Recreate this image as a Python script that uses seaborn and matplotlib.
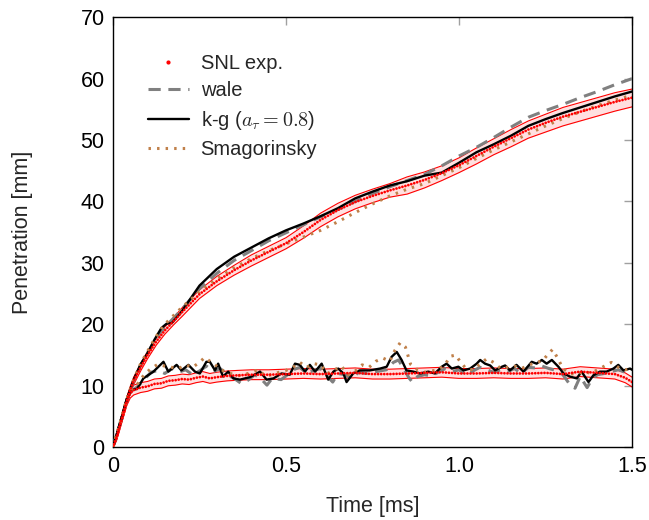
import numpy as np
import pandas as pd
import matplotlib
matplotlib.use("Agg")
import matplotlib.pyplot as plt
from matplotlib.lines import Line2D
import seaborn as sns

# ---------------- data ----------------
# Experimental vapour penetration (SNL): centre, lower and upper bounds
vap_exp_t  = [0, 0.01, 0.02, 0.03, 0.04, 0.05, 0.06, 0.08, 0.10, 0.125, 0.15, 0.175, 0.20, 0.25, 0.30,
              0.35, 0.40, 0.45, 0.50, 0.55, 0.60, 0.65, 0.70, 0.75, 0.80, 0.85, 0.90, 0.95, 1.00,
              1.05, 1.10, 1.15, 1.20, 1.25, 1.30, 1.35, 1.40, 1.45, 1.50]
vap_exp_c  = [0, 1.5, 3.5, 5.5, 7.5, 9.3, 10.8, 13.0, 15.0, 17.2, 19.0, 20.5, 22.0, 24.9, 27.0,
              28.8, 30.4, 31.8, 33.2, 35.0, 37.0, 38.6, 39.9, 40.9, 41.8, 42.6, 43.5, 44.6, 45.9,
              47.4, 48.9, 50.3, 51.7, 52.8, 53.8, 54.6, 55.4, 56.2, 56.9]
vap_exp_lo = [0, 1.0, 2.9, 4.9, 6.9, 8.7, 10.2, 12.4, 14.4, 16.6, 18.4, 19.9, 21.3, 24.2, 26.3,
              28.0, 29.5, 30.9, 32.3, 34.0, 35.9, 37.5, 38.8, 39.8, 40.7, 41.2, 42.2, 43.4, 44.7,
              46.1, 47.6, 48.9, 50.3, 51.3, 52.3, 53.1, 53.9, 54.7, 55.4]
vap_exp_hi = [0, 2.0, 4.1, 6.1, 8.1, 9.9, 11.4, 13.6, 15.6, 17.8, 19.6, 21.1, 22.7, 25.6, 27.8,
              29.6, 31.3, 32.7, 34.1, 36.0, 38.1, 39.7, 41.0, 42.0, 42.9, 44.0, 44.8, 45.8, 47.1,
              48.7, 50.2, 51.7, 53.1, 54.2, 55.3, 56.1, 56.9, 57.7, 58.3]

# Experimental liquid length (SNL): centre and half spread
liq_exp_t = [0, 0.01, 0.02, 0.03, 0.04, 0.05, 0.06, 0.08, 0.10, 0.12, 0.14, 0.16, 0.18, 0.20, 0.22,
             0.24, 0.26, 0.28, 0.30, 0.33, 0.36, 0.40, 0.45, 0.50, 0.55, 0.60, 0.65, 0.70, 0.75,
             0.80, 0.85, 0.90, 0.95, 1.00, 1.05, 1.10, 1.15, 1.20, 1.25, 1.30, 1.35, 1.40, 1.45,
             1.48, 1.50]
liq_exp_c = [0, 1.5, 3.5, 5.5, 7.5, 8.8, 9.3, 9.7, 9.9, 10.3, 10.4, 10.8, 10.9, 11.1, 11.0,
             11.3, 11.5, 11.2, 11.4, 11.6, 11.7, 11.8, 11.8, 11.9, 12.0, 11.9, 12.0, 12.1, 11.9,
             11.9, 12.0, 12.1, 12.2, 12.0, 12.0, 12.1, 12.0, 12.0, 12.1, 11.9, 12.3, 12.1, 11.9,
             11.3, 10.6]
liq_exp_s = [0, 0.3, 0.5, 0.6, 0.7, 0.8, 0.8, 0.8, 0.8, 0.8, 0.8, 0.8, 0.8, 0.8, 0.8,
             0.8, 0.8, 0.8, 0.8, 0.8, 0.8, 0.8, 0.8, 0.8, 0.8, 0.8, 0.8, 0.8, 0.8,
             0.8, 0.8, 0.8, 0.8, 0.8, 0.8, 0.8, 0.8, 0.8, 0.8, 0.8, 0.8, 0.8, 0.8,
             0.8, 0.8]

# LES vapour penetration
kg_vap_t = [0, 0.02, 0.04, 0.06, 0.08, 0.10, 0.12, 0.14, 0.155, 0.17, 0.19, 0.20, 0.25, 0.30, 0.35,
            0.40, 0.45, 0.50, 0.55, 0.60, 0.65, 0.70, 0.75, 0.80, 0.85, 0.90, 0.95, 1.00, 1.05,
            1.10, 1.15, 1.20, 1.25, 1.30, 1.35, 1.40, 1.45, 1.50]
kg_vap   = [0, 3.8, 7.8, 11.0, 13.5, 15.3, 17.5, 19.4, 20.1, 20.2, 21.5, 22.2, 26.3, 29.0, 31.0,
            32.5, 34.0, 35.3, 36.4, 37.6, 38.9, 40.5, 41.6, 42.6, 43.3, 44.2, 44.7, 46.3, 48.0,
            49.3, 50.7, 52.3, 53.4, 54.4, 55.3, 56.2, 57.1, 57.9]

wale_vap_t = [0, 0.02, 0.04, 0.06, 0.08, 0.10, 0.12, 0.14, 0.16, 0.20, 0.25, 0.30, 0.35, 0.40, 0.45,
              0.50, 0.55, 0.60, 0.65, 0.70, 0.75, 0.80, 0.85, 0.90, 0.95, 1.00, 1.05, 1.10, 1.15,
              1.20, 1.25, 1.30, 1.35, 1.40, 1.45, 1.50]
wale_vap   = [0, 3.7, 7.6, 10.8, 13.3, 15.3, 17.3, 18.9, 20.1, 22.5, 25.8, 28.3, 30.4, 32.0, 33.6,
              34.9, 36.2, 37.5, 38.7, 40.0, 41.3, 42.4, 43.4, 44.4, 45.8, 47.4, 48.8, 50.4, 52.1,
              53.7, 54.8, 55.8, 56.9, 57.9, 59.0, 60.0]

smag_vap_t = [0, 0.02, 0.04, 0.06, 0.08, 0.10, 0.12, 0.14, 0.16, 0.20, 0.25, 0.30, 0.35, 0.40, 0.45,
              0.50, 0.55, 0.60, 0.65, 0.70, 0.75, 0.80, 0.85, 0.90, 0.95, 1.00, 1.05, 1.10, 1.15,
              1.20, 1.25, 1.30, 1.35, 1.40, 1.45, 1.50]
smag_vap   = [0, 3.8, 7.8, 11.0, 13.6, 15.6, 17.6, 19.3, 20.6, 22.8, 25.3, 27.4, 29.2, 30.7, 32.0,
              33.1, 34.2, 35.3, 36.7, 38.2, 39.6, 40.9, 42.0, 42.9, 44.2, 45.5, 47.0, 48.4, 49.7,
              51.0, 52.3, 53.5, 54.6, 55.6, 56.5, 57.3]

# LES liquid length
kg_liq_t = [0, 0.02, 0.04, 0.055, 0.07, 0.088, 0.117, 0.146, 0.16, 0.184, 0.198, 0.218, 0.237, 0.251,
            0.27, 0.28, 0.295, 0.304, 0.318, 0.333, 0.348, 0.367, 0.396, 0.425, 0.444, 0.464, 0.487,
            0.511, 0.526, 0.54, 0.555, 0.569, 0.584, 0.603, 0.622, 0.637, 0.651, 0.666, 0.675, 0.694,
            0.713, 0.742, 0.772, 0.791, 0.805, 0.82, 0.834, 0.848, 0.868, 0.887, 0.911, 0.93, 0.95,
            0.964, 0.979, 0.998, 1.013, 1.032, 1.051, 1.061, 1.075, 1.09, 1.104, 1.124, 1.133, 1.147,
            1.166, 1.186, 1.21, 1.224, 1.239, 1.253, 1.268, 1.287, 1.302, 1.32, 1.34, 1.354, 1.374,
            1.388, 1.407, 1.426, 1.446, 1.46, 1.475, 1.494, 1.5]
kg_liq   = [0, 3.8, 7.8, 9.3, 9.5, 11.2, 12.3, 13.9, 12.3, 13.4, 12.5, 13.4, 12.3, 12.0,
            13.9, 13.9, 12.5, 13.6, 11.5, 12.3, 11.2, 11.0, 11.4, 12.3, 11.0, 11.2, 12.0,
            11.8, 13.6, 13.4, 12.3, 13.4, 12.3, 13.6, 11.0, 12.3, 12.8, 12.0, 10.6, 12.0,
            12.5, 12.5, 12.8, 13.1, 14.7, 15.5, 14.2, 12.5, 12.3, 12.0, 12.3, 12.0, 13.1,
            13.6, 12.8, 13.1, 12.5, 12.8, 13.6, 14.2, 13.6, 13.3, 12.5, 13.1, 13.3, 12.5,
            13.4, 12.3, 13.9, 13.6, 14.2, 13.6, 14.2, 13.1, 12.0, 11.5, 11.2, 12.3, 10.6,
            11.7, 12.3, 12.3, 12.8, 13.4, 12.5, 12.8, 12.6]

wale_liq_t = [0, 0.02, 0.04, 0.055, 0.07, 0.09, 0.11, 0.13, 0.15, 0.17, 0.19, 0.21, 0.23, 0.25, 0.27,
              0.29, 0.31, 0.33, 0.35, 0.37, 0.39, 0.41, 0.43, 0.445, 0.46, 0.486, 0.50, 0.52, 0.54,
              0.56, 0.58, 0.60, 0.62, 0.635, 0.65, 0.67, 0.69, 0.71, 0.73, 0.75, 0.77, 0.79, 0.81,
              0.825, 0.84, 0.855, 0.865, 0.88, 0.90, 0.92, 0.94, 0.96, 0.98, 1.00, 1.02, 1.04, 1.06,
              1.08, 1.10, 1.12, 1.14, 1.16, 1.18, 1.20, 1.22, 1.24, 1.26, 1.28, 1.30, 1.32, 1.335,
              1.35, 1.37, 1.385, 1.40, 1.42, 1.44, 1.46, 1.48, 1.50]
wale_liq   = [0, 3.7, 7.6, 9.2, 9.8, 11.0, 12.2, 12.5, 12.0, 12.8, 12.2, 12.6, 11.8, 12.4, 13.2,
              12.3, 12.8, 11.8, 11.2, 10.4, 10.9, 11.8, 11.0, 10.1, 11.2, 11.0, 11.6, 12.6, 13.0,
              12.0, 12.5, 12.8, 11.5, 10.6, 12.0, 11.8, 11.2, 12.2, 12.0, 12.2, 12.4, 12.6, 13.8,
              14.2, 12.8, 11.3, 10.6, 11.5, 11.8, 11.6, 12.2, 12.8, 12.3, 12.6, 11.8, 12.4, 13.0,
              12.6, 12.2, 12.6, 12.3, 12.8, 12.0, 13.0, 12.9, 13.2, 12.8, 12.5, 11.8, 10.2, 9.6,
              11.5, 9.7, 11.2, 11.8, 12.0, 12.3, 12.6, 12.2, 12.4]

smag_liq_t = [0, 0.02, 0.04, 0.055, 0.07, 0.09, 0.11, 0.13, 0.15, 0.17, 0.19, 0.21, 0.23, 0.25, 0.265,
              0.28, 0.30, 0.32, 0.34, 0.36, 0.38, 0.40, 0.42, 0.44, 0.46, 0.48, 0.50, 0.52, 0.54,
              0.56, 0.58, 0.60, 0.62, 0.64, 0.66, 0.68, 0.70, 0.72, 0.74, 0.76, 0.78, 0.80, 0.815,
              0.83, 0.845, 0.86, 0.88, 0.90, 0.92, 0.94, 0.96, 0.975, 0.99, 1.005, 1.02, 1.04, 1.06,
              1.08, 1.10, 1.12, 1.14, 1.16, 1.18, 1.20, 1.22, 1.24, 1.255, 1.27, 1.285, 1.30, 1.32,
              1.34, 1.36, 1.38, 1.40, 1.42, 1.44, 1.46, 1.48, 1.50]
smag_liq   = [0, 3.8, 7.8, 9.5, 10.2, 11.8, 12.8, 13.5, 13.2, 13.0, 12.8, 13.4, 13.0, 13.8, 14.6,
              14.0, 13.2, 12.4, 12.0, 11.6, 11.8, 12.2, 12.6, 11.6, 11.8, 12.2, 12.5, 13.0, 13.8,
              13.0, 13.6, 13.4, 12.0, 12.6, 13.2, 11.8, 12.4, 13.4, 13.0, 14.0, 14.5, 14.0, 15.8,
              17.0, 16.3, 13.5, 12.6, 12.2, 12.4, 12.6, 13.5, 14.8, 15.0, 13.8, 12.8, 12.6, 13.5,
              14.4, 13.8, 12.8, 13.0, 13.2, 12.8, 13.3, 13.8, 14.0, 15.0, 15.9, 14.5, 12.8, 12.0,
              11.8, 12.4, 12.0, 12.6, 13.2, 13.8, 13.0, 12.6, 12.8]

x_ticks = [0, 0.5, 1.0, 1.5]
x_tick_labels = ["0", "0.5", "1.0", "1.5"]
y_ticks = [0, 10, 20, 30, 40, 50, 60, 70]

# ---------------- style ----------------
sns.set_theme(style="white")
plt.rcParams['font.family'] = ['Liberation Sans', 'DejaVu Sans']
plt.rcParams['mathtext.fontset'] = 'cm'

RED = "#ff0000"
GRAY = "#808080"
SMAG = "#c0804a"

fig = plt.figure(figsize=(6.49, 5.2), dpi=100)
ax = fig.add_axes([0.174, 0.140, 0.800, 0.827])

# experimental bands
vlo = np.array(vap_exp_lo); vhi = np.array(vap_exp_hi)
ax.fill_between(vap_exp_t, vlo, vhi, color=RED, alpha=0.12, lw=0, zorder=1)
sns.lineplot(x=vap_exp_t, y=vap_exp_lo, ax=ax, color=RED, lw=0.8, sort=False, estimator=None, zorder=2)
sns.lineplot(x=vap_exp_t, y=vap_exp_hi, ax=ax, color=RED, lw=0.8, sort=False, estimator=None, zorder=2)

lc = np.array(liq_exp_c); ls_ = np.array(liq_exp_s)
ax.fill_between(liq_exp_t, lc - ls_, lc + ls_, color=RED, alpha=0.12, lw=0, zorder=1)
sns.lineplot(x=liq_exp_t, y=lc - ls_, ax=ax, color=RED, lw=0.8, sort=False, estimator=None, zorder=2)
sns.lineplot(x=liq_exp_t, y=lc + ls_, ax=ax, color=RED, lw=0.8, sort=False, estimator=None, zorder=2)

# LES results
for t, v in [(wale_vap_t, wale_vap), (wale_liq_t, wale_liq)]:
    sns.lineplot(x=t, y=v, ax=ax, color=GRAY, lw=2.2, sort=False, estimator=None,
                 zorder=3).lines[-1].set_dashes((4, 2.5))
for t, v in [(kg_vap_t, kg_vap), (kg_liq_t, kg_liq)]:
    sns.lineplot(x=t, y=v, ax=ax, color="black", lw=1.7, sort=False, estimator=None, zorder=4)
for t, v in [(smag_vap_t, smag_vap), (smag_liq_t, smag_liq)]:
    ln = sns.lineplot(x=t, y=v, ax=ax, color=SMAG, lw=2.2, sort=False, estimator=None, zorder=5).lines[-1]
    ln.set_dashes((0.8, 2.0)); ln.set_dash_capstyle('butt')

# experimental centre lines drawn as dense dots
for t, v in [(vap_exp_t, vap_exp_c), (liq_exp_t, liq_exp_c)]:
    ln = sns.lineplot(x=t, y=v, ax=ax, color=RED, lw=2.0, sort=False, estimator=None, zorder=6).lines[-1]
    ln.set_dashes((0.01, 1.1)); ln.set_dash_capstyle('round')

ax.set_xlim(0, 1.5)
ax.set_ylim(0, 70)
ax.set_xticks(x_ticks)
ax.set_xticklabels(x_tick_labels)
ax.set_yticks(y_ticks)
ax.tick_params(axis='both', direction='in', length=6, width=1, color="#a0a0a0",
               top=True, right=True, labelsize=15.5, pad=6, labelcolor="black")
for sp in ax.spines.values():
    sp.set_color("black"); sp.set_linewidth(1.0); sp.set_visible(True)
ax.set_xlabel("Time [ms]", fontsize=15.5, labelpad=14)
ax.set_ylabel("Penetration [mm]", fontsize=15.5, labelpad=34)

handles = [
    Line2D([], [], color=RED, marker='.', markersize=4, lw=0),
    Line2D([], [], color=GRAY, lw=2.2, dashes=(4, 2.5)),
    Line2D([], [], color="black", lw=1.7),
    Line2D([], [], color=SMAG, lw=2.2, dashes=(0.8, 2.0)),
]
labels = ["SNL exp.", "wale", r"k-g ($a_\tau = 0.8$)", "Smagorinsky"]
ax.legend(handles, labels, loc='upper left', bbox_to_anchor=(0.068, 0.915), frameon=False,
          fontsize=14.5, handlelength=2.0, handletextpad=0.6, labelspacing=0.42,
          borderpad=0, borderaxespad=0)

fig.savefig("out.png", dpi=100)
